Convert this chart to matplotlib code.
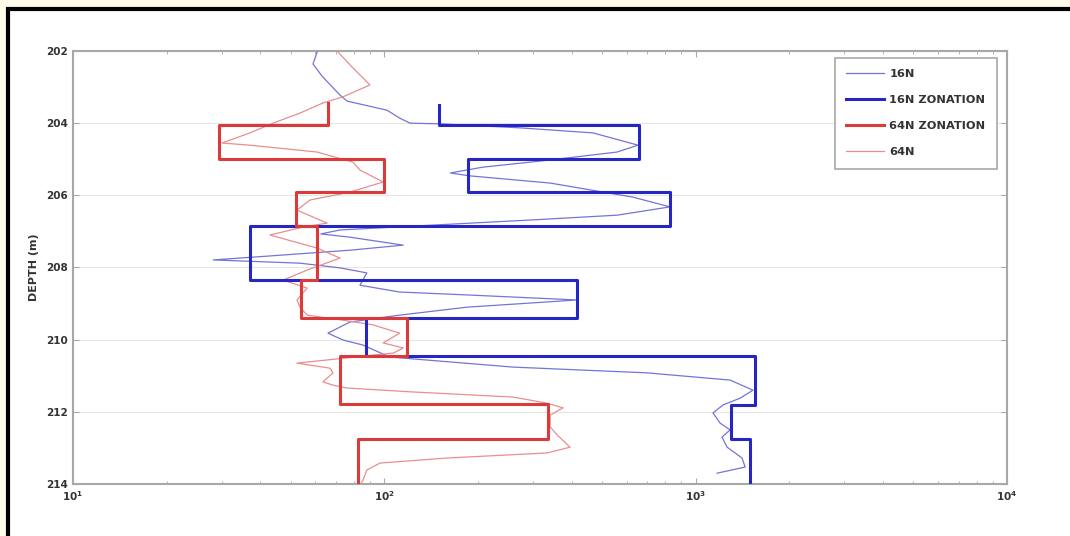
import numpy as np
import matplotlib
matplotlib.use("Agg")
import matplotlib.pyplot as plt
from matplotlib.patches import Rectangle

# zonation: depth edges (m) and resistivity of each zone
zone_edges_16 = [203.5, 204.05, 205.0, 205.9, 206.85, 208.35, 209.4, 210.45, 211.8, 212.75, 214.0]
zone_vals_16 = [150, 660, 185, 830, 37, 415, 87, 1550, 1300, 1500]
zone_edges_64 = [203.45, 204.05, 205.0, 205.92, 206.85, 208.35, 209.4, 210.45, 211.78, 212.75, 214.0]
zone_vals_64 = [66, 29.5, 100, 52, 61, 54, 118, 72, 335, 82]

# raw logs
depth_16 = [202.00, 202.36, 202.69, 203.22, 203.39, 203.64, 203.86, 204.00, 204.02, 204.13,
            204.27, 204.61, 204.80, 205.02, 205.22, 205.38, 205.46, 205.66, 206.05, 206.32,
            206.55, 206.68, 206.96, 207.07, 207.16, 207.38, 207.52, 207.68, 207.79, 207.88,
            208.01, 208.15, 208.49, 208.68, 208.76, 208.90, 209.10, 209.32, 209.51, 209.82,
            210.01, 210.15, 210.48, 210.76, 210.92, 211.12, 211.40, 211.62, 211.81, 212.03,
            212.31, 212.50, 212.70, 212.98, 213.28, 213.53, 213.70]
res_16 = [61, 59, 63, 72, 76, 102, 112, 121, 153, 273,
          468, 653, 559, 341, 207, 163, 188, 341, 629, 827,
          559, 300, 72, 62.5, 77.6, 115, 77.6, 42.9, 28.2, 53.6,
          72, 87.9, 83.5, 112, 184, 416, 184, 112, 77.6, 65.9,
          73.7, 85.4, 104, 259, 698, 1290, 1528, 1390, 1224, 1137,
          1197, 1290, 1215, 1262, 1409, 1442, 1172]

depth_64 = [202.00, 202.47, 202.94, 203.27, 203.44, 203.72, 204.00, 204.27, 204.55, 204.61,
            204.80, 205.08, 205.30, 205.63, 205.91, 206.13, 206.41, 206.77, 206.88, 207.10,
            207.46, 207.74, 208.07, 208.35, 208.57, 208.90, 209.10, 209.32, 209.46, 209.59,
            209.82, 210.09, 210.23, 210.37, 210.65, 210.79, 210.92, 211.17, 211.26, 211.34,
            211.45, 211.59, 211.76, 211.89, 212.09, 212.42, 212.64, 212.98, 213.14, 213.28,
            213.42, 213.61, 213.89, 214.00]
res_64 = [70.5, 79.3, 89.9, 73.7, 63.5, 53.6, 43.9, 37.0, 30.1, 37.0,
          60.8, 79.3, 83.5, 99.1, 77.6, 57.7, 52.4, 65.5, 54.8, 42.9,
          60.8, 72.0, 56.5, 47.3, 56.5, 52.4, 53.6, 56.5, 73.7, 92.0,
          112, 99.1, 115, 107, 52.4, 66.9, 68.4, 63.5, 68.4, 75.9,
          124, 259, 333, 375, 341, 341, 359, 395, 333, 159,
          96.8, 87.9, 85.4, 84]

depth_ticks = [202, 204, 206, 208, 210, 212, 214]

plt.rcParams['font.family'] = ['DejaVu Sans']

fig = plt.figure(figsize=(10.7, 5.36), dpi=100, facecolor='#fffbea')
# white page with black frame on left and top
fig.patches.append(Rectangle((8 / 1070, -0.1), 1.1, (536 - 9) / 536 + 0.1,
                             transform=fig.transFigure, facecolor='white',
                             edgecolor='black', linewidth=3, zorder=-5))

ax = fig.add_axes([73 / 1070, 1 - 484 / 536, 934 / 1070, 433 / 536])
ax.set_zorder(2)


def steps(edges, vals):
    d = np.repeat(edges, 2)[1:-1]
    v = np.repeat(vals, 2)
    return v, d


ax.plot(res_16, depth_16, color='#7474d8', lw=0.9, label='16N', zorder=3)
x, d = steps(zone_edges_16, zone_vals_16)
ax.plot(x, d, color='#2626c2', lw=2.2, label='16N ZONATION', zorder=4)
x, d = steps(zone_edges_64, zone_vals_64)
ax.plot(x, d, color='#dc3a3a', lw=2.2, label='64N ZONATION', zorder=4)
ax.plot(res_64, depth_64, color='#e88e8e', lw=0.9, label='64N', zorder=3)

ax.set_xscale('log')
ax.set_xlim(10, 1e4)
ax.set_ylim(214, 202)
ax.set_yticks(depth_ticks)
ax.grid(axis='y', color='#e6e6e6', lw=0.8)
ax.grid(axis='x', which='both', visible=False)
ax.set_axisbelow(True)

for s in ax.spines.values():
    s.set_color('#a8a8a8')
    s.set_linewidth(1.5)
ax.tick_params(which='both', direction='in', top=True, right=True, colors='#a8a8a8',
               labelcolor='#333333', labelsize=7.5)
ax.tick_params(which='major', length=4)
ax.tick_params(which='minor', length=2)
for lab in ax.get_yticklabels() + ax.get_xticklabels():
    lab.set_fontweight('bold')

ax.set_ylabel('DEPTH (m)', fontsize=8, fontweight='bold', color='#333333', labelpad=5)

leg = ax.legend(loc='upper right', bbox_to_anchor=(0.989, 0.984), borderaxespad=0,
                prop={'weight': 'bold', 'size': 8.2}, handlelength=3.3, handletextpad=0.5,
                labelspacing=1.4, borderpad=1.0, fancybox=False, framealpha=1)
leg.get_frame().set_edgecolor('#a8a8a8')
leg.get_frame().set_linewidth(1.2)
for t in leg.get_texts():
    t.set_color('#333333')

fig.savefig('out.png', dpi=100, facecolor=fig.get_facecolor())
